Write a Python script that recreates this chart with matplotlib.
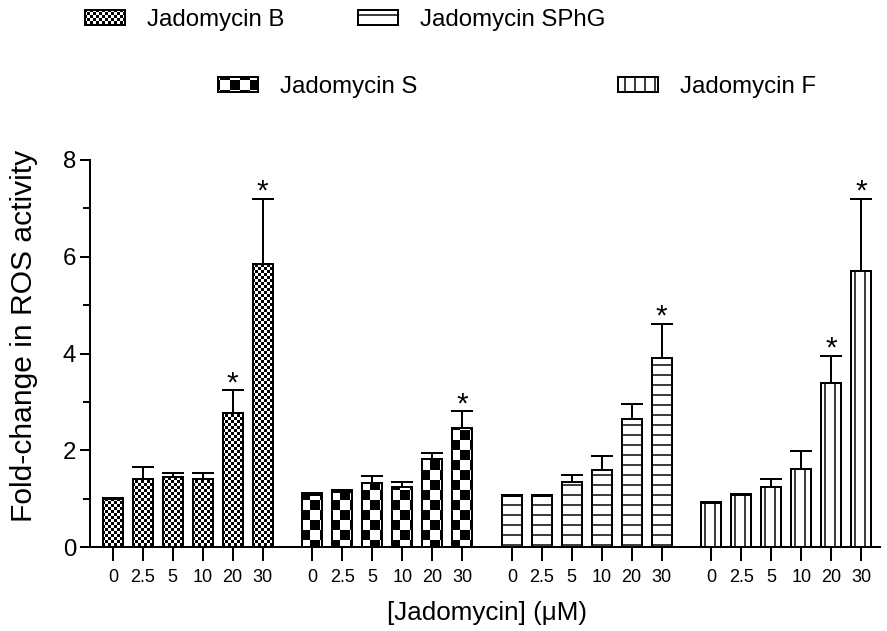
import numpy as np
import matplotlib
matplotlib.use("Agg")
import matplotlib.pyplot as plt
import matplotlib.hatch as mhatch
from matplotlib.path import Path

# ---------------- data ----------------
doses = ["0", "2.5", "5", "10", "20", "30"]
series_names = ["Jadomycin B", "Jadomycin S", "Jadomycin SPhG", "Jadomycin F"]
mean_B = [0.99, 1.40, 1.44, 1.40, 2.76, 5.86]
err_B = [0.03, 0.26, 0.10, 0.14, 0.48, 1.34]
mean_S = [1.07, 1.14, 1.32, 1.24, 1.81, 2.47]
err_S = [0.05, 0.03, 0.15, 0.11, 0.14, 0.34]
mean_SPhG = [1.05, 1.06, 1.34, 1.59, 2.64, 3.91]
err_SPhG = [0.03, 0.02, 0.15, 0.29, 0.32, 0.71]
mean_F = [0.90, 1.07, 1.25, 1.62, 3.38, 5.70]
err_F = [0.03, 0.02, 0.16, 0.36, 0.57, 1.50]
signif_B = [0, 0, 0, 0, 1, 1]
signif_S = [0, 0, 0, 0, 0, 1]
signif_SPhG = [0, 0, 0, 0, 0, 1]
signif_F = [0, 0, 0, 0, 1, 1]

means = [mean_B, mean_S, mean_SPhG, mean_F]
errs = [err_B, err_S, err_SPhG, err_F]
signifs = [signif_B, signif_S, signif_SPhG, signif_F]
hatches = ["k", "K", "-", "|"]

# ---------------- custom checkerboard hatch ----------------
DPI = 60
PX = 72.0 / DPI  # points per pixel
HATCH_LW_PX = 1.5


class CheckerHatch(mhatch.HatchPatternBase):
    def __init__(self, hatch, density):
        self.n = 0
        if "k" in hatch:
            self.n = 20
        elif "K" in hatch:
            self.n = 6
        self.num_vertices = (self.n * self.n // 2) * 5

    def set_vertices_and_codes(self, vertices, codes):
        s = 1.0 / self.n
        sh = (HATCH_LW_PX / 2.0) / DPI
        verts = []
        for i in range(self.n):
            for j in range(self.n):
                if (i + j) % 2 == 0:
                    x0, y0 = i * s + sh, j * s + sh
                    x1, y1 = (i + 1) * s - sh, (j + 1) * s - sh
                    verts += [(x0, y0), (x1, y0), (x1, y1), (x0, y1), (x0, y0)]
        vertices[:] = np.array(verts)
        cnt = len(verts) // 5
        codes[:] = np.array([Path.MOVETO, Path.LINETO, Path.LINETO,
                             Path.LINETO, Path.CLOSEPOLY] * cnt)


mhatch._hatch_types.append(CheckerHatch)

import warnings
warnings.filterwarnings("ignore")

plt.rcParams["font.family"] = ["Liberation Sans", "DejaVu Sans"]
plt.rcParams["hatch.linewidth"] = HATCH_LW_PX * PX
plt.rcParams["hatch.color"] = "black"

W, H = 887, 631
fig = plt.figure(figsize=(W / DPI, H / DPI), dpi=DPI)
ax = fig.add_axes([90 / W, (H - 547) / H, (880 - 90) / W, (547 - 160) / H])

group_offset = 200 / 30.0
bar_w = 20 / 30.0
handles = []
xticks = []
xlabels = []
for g in range(4):
    xs = g * group_offset + np.arange(len(doses))
    xticks += list(xs)
    xlabels += doses
    bars = ax.bar(xs, means[g], width=bar_w, facecolor="white",
                  edgecolor="black", linewidth=2 * PX, hatch=hatches[g],
                  zorder=2)
    handles.append(bars)
    ax.errorbar(xs, means[g], yerr=[np.zeros(len(xs)), errs[g]], fmt="none",
                ecolor="black", elinewidth=2 * PX, capsize=11 * PX,
                capthick=2 * PX, zorder=3)
    for x, m, e, s in zip(xs, means[g], errs[g], signifs[g]):
        if s:
            ax.annotate("*", xy=(x, m + e), xytext=(0, -1),
                        textcoords="offset pixels", ha="center",
                        va="baseline", fontsize=30 * PX)

ax.set_xlim(-0.767, 3 * group_offset + 5 + 0.633)
ax.set_ylim(0, 8)
ax.set_yticks([0, 2, 4, 6, 8])
ax.set_yticks([1, 3, 5, 7], minor=True)
ax.set_xticks(xticks)
ax.set_xticklabels(xlabels)
for sp in ["top", "right"]:
    ax.spines[sp].set_visible(False)
for sp in ["left", "bottom"]:
    ax.spines[sp].set_linewidth(2 * PX)
ax.tick_params(axis="y", which="major", direction="out", length=10 * PX,
               width=2 * PX, labelsize=24 * PX, pad=4 * PX)
ax.tick_params(axis="y", which="minor", direction="out", length=7 * PX,
               width=2 * PX)
ax.tick_params(axis="x", which="major", direction="out", length=14 * PX,
               width=2 * PX, labelsize=18 * PX, pad=8 * PX)

ax.set_ylabel("Fold-change in ROS activity", fontsize=30 * PX)
ax.yaxis.set_label_coords(-0.066, 0.545)
fig.text(487 / W, 1 - 613 / H, "[Jadomycin] (\u03bcM)", ha="center",
         va="center", fontsize=26 * PX)

# legend: staggered entries
leg_pos = [(85, 20), (218, 87), (358, 20), (618, 87)]
for g in range(4):
    lx, ly = leg_pos[g]
    leg = fig.legend([handles[g]], [series_names[g]], loc="center left",
                     bbox_to_anchor=(lx / W, 1 - ly / H), frameon=False,
                     fontsize=24 * PX, handlelength=40 / 24.0,
                     handleheight=13 / 24.0, handletextpad=22 / 24.0,
                     borderpad=0, borderaxespad=0)

fig.savefig("out.png", dpi=DPI)
